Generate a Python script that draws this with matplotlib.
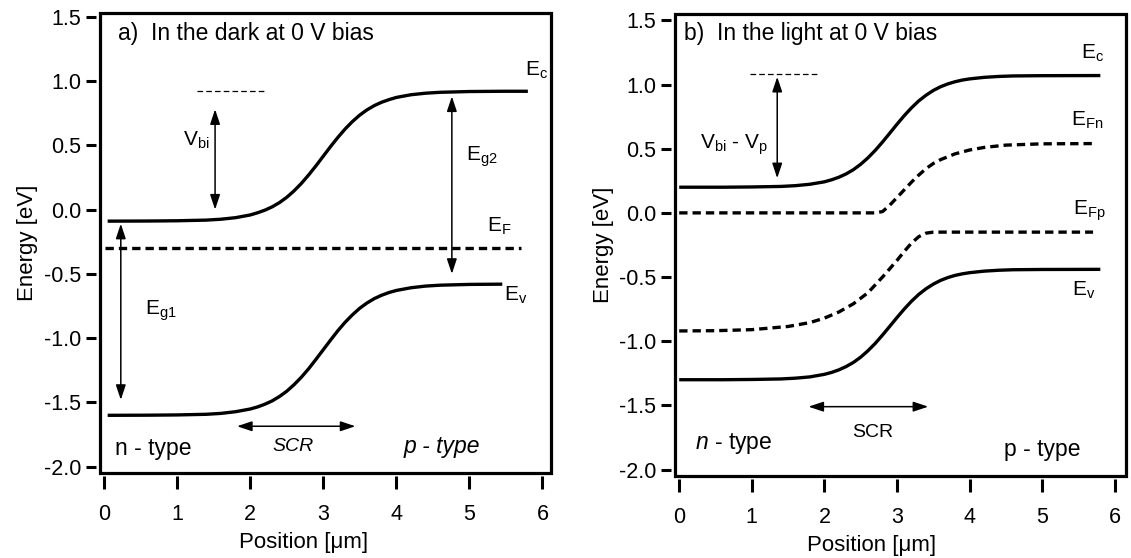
import matplotlib
matplotlib.use("Agg")
import matplotlib.pyplot as plt
from matplotlib.patches import Rectangle

plt.rcParams["font.family"] = ["Liberation Sans", "DejaVu Sans"]
plt.rcParams["mathtext.fontset"] = "custom"
plt.rcParams["mathtext.rm"] = "Liberation Sans"
plt.rcParams["mathtext.it"] = "Liberation Sans:italic"
plt.rcParams["mathtext.bf"] = "Liberation Sans:bold"

# ---- panel a) dark, 0 V bias ----
pos_a = [0.05, 0.6, 1.0, 1.4, 1.6, 1.8,
         2.0, 2.1, 2.2, 2.3, 2.4, 2.5, 2.6, 2.7, 2.8, 2.9, 3.0,
         3.1, 3.2, 3.3, 3.4, 3.5, 3.6, 3.7, 3.8, 3.9, 4.0,
         4.2, 4.4, 4.6, 5.0, 5.45, 5.8]
ec_a = [-0.090, -0.089, -0.087, -0.082, -0.075, -0.063,
        -0.042, -0.025, -0.005, 0.021, 0.054, 0.095, 0.145, 0.203, 0.269, 0.340, 0.415,
        0.490, 0.561, 0.627, 0.685, 0.735, 0.776, 0.809, 0.835, 0.855, 0.872,
        0.893, 0.905, 0.912, 0.918, 0.920, 0.920]
ev_a = [-1.600, -1.599, -1.597, -1.592, -1.585, -1.572,
        -1.551, -1.535, -1.514, -1.488, -1.454, -1.413, -1.362, -1.304, -1.238, -1.165,
        -1.090, -1.015, -0.942, -0.876, -0.818, -0.767, -0.726, -0.692, -0.666, -0.645,
        -0.629, -0.608, -0.595, -0.588, -0.582, -0.580]
ef_pos_a = [0.02, 5.7]
ef_a = [-0.30, -0.30]

# ---- panel b) light, 0 V bias ----
pos_b = [0.0, 0.6, 1.0, 1.4, 1.6, 1.8,
         2.0, 2.1, 2.2, 2.3, 2.4, 2.5, 2.6, 2.7, 2.8, 2.9, 3.0,
         3.1, 3.2, 3.3, 3.4, 3.5, 3.6, 3.7, 3.8, 3.9, 4.0,
         4.2, 4.4, 4.6, 5.0, 5.8]
ec_b = [0.200, 0.200, 0.202, 0.206, 0.212, 0.223,
        0.242, 0.258, 0.278, 0.304, 0.337, 0.379, 0.429, 0.487, 0.552, 0.621, 0.691,
        0.758, 0.819, 0.873, 0.917, 0.954, 0.983, 1.005, 1.022, 1.035, 1.044,
        1.056, 1.063, 1.067, 1.069, 1.070]
ev_b = [-1.300, -1.300, -1.298, -1.294, -1.288, -1.278,
        -1.258, -1.243, -1.223, -1.197, -1.165, -1.124, -1.074, -1.017, -0.952, -0.884,
        -0.815, -0.749, -0.688, -0.635, -0.591, -0.555, -0.526, -0.504, -0.487, -0.475,
        -0.466, -0.454, -0.447, -0.443, -0.441, -0.440]
efn_pos = [0.0, 2.7, 2.8, 2.9, 3.0, 3.1, 3.2, 3.3, 3.4, 3.5, 3.6, 3.8, 4.0, 4.2,
           4.5, 5.0, 5.7]
efn_b = [0.0, 0.0, 0.01, 0.06, 0.12, 0.18, 0.24, 0.295, 0.345, 0.385, 0.415, 0.46,
         0.49, 0.51, 0.528, 0.538, 0.54]
efp_pos = [0.0, 0.5, 1.0, 1.5, 1.8, 2.0, 2.2, 2.4, 2.6, 2.8, 3.0, 3.1, 3.2, 3.3,
           3.4, 3.5, 4.0, 5.7]
efp_b = [-0.92, -0.918, -0.91, -0.885, -0.855, -0.82, -0.772, -0.708, -0.622, -0.50,
         -0.37, -0.30, -0.235, -0.185, -0.158, -0.15, -0.15, -0.15]

xticks = [0, 1, 2, 3, 4, 5, 6]
yticks = [-2.0, -1.5, -1.0, -0.5, 0.0, 0.5, 1.0, 1.5]
ytick_labels = ["-2.0", "-1.5", "-1.0", "-0.5", "0.0", "0.5", "1.0", "1.5"]

BAND = dict(color="k", lw=2.4, solid_capstyle="butt", solid_joinstyle="round")
FERMI = dict(color="k", lw=2.4, dashes=(2.5, 1.5), dash_capstyle="butt")
REF = dict(color="k", lw=0.9, dashes=(4.5, 2.5))
ARROW = dict(arrowstyle="<|-|>,head_length=0.6,head_width=0.2", color="k", lw=1.1,
             mutation_scale=15, shrinkA=0, shrinkB=0)
LBL = 15


def style_axes(ax, xlim, ylim, xlab_x):
    ax.set_xlim(*xlim)
    ax.set_ylim(*ylim)
    ax.set_xticks(xticks)
    ax.set_yticks(yticks)
    ax.set_yticklabels(ytick_labels)
    for side in ("top", "right"):
        ax.spines[side].set_linewidth(2.0)
    # ticks sit a little away from the frame, as in the original
    ax.spines["bottom"].set_position(("outward", 2))
    ax.spines["left"].set_position(("outward", 3))
    ax.spines["bottom"].set_visible(False)
    ax.spines["left"].set_visible(False)
    ax.add_patch(Rectangle((0, 0), 1, 1, transform=ax.transAxes, fill=False,
                           lw=2.3, ec="k", clip_on=False, zorder=5))
    ax.tick_params(axis="x", direction="out", length=9, width=2.2, pad=11, labelsize=15.5)
    ax.tick_params(axis="y", direction="out", length=7.5, width=2.2, pad=3, labelsize=15.5)
    ax.set_xlabel("Position [\u03bcm]", fontsize=16)
    ax.set_ylabel("Energy [eV]", fontsize=16)
    ax.xaxis.set_label_coords(xlab_x, -0.128)


fig = plt.figure(figsize=(11.31, 5.58), dpi=100)
ax1 = fig.add_axes([0.0884, 0.152, 0.399, 0.825])
ax2 = fig.add_axes([0.597, 0.147, 0.399, 0.828])

# panel a
ax1.plot(pos_a, ec_a, **BAND)
ax1.plot(pos_a[:-1], ev_a, **BAND)
ax1.plot(ef_pos_a, ef_a, **FERMI)
ax1.plot([1.27, 2.23], [0.92, 0.92], **REF)
ax1.annotate("", xy=(1.52, 0.78), xytext=(1.52, 0.0), arrowprops=ARROW)
ax1.annotate("", xy=(0.23, -0.11), xytext=(0.23, -1.48), arrowprops=ARROW)
ax1.annotate("", xy=(4.76, 0.88), xytext=(4.76, -0.50), arrowprops=ARROW)
ax1.annotate("", xy=(1.82, -1.685), xytext=(3.44, -1.685), arrowprops=ARROW)
ax1.text(0.19, 1.37, "a)  In the dark at 0 V bias", fontsize=16.5, va="center")
ax1.text(1.44, 0.54, r"V$_\mathregular{bi}$", fontsize=LBL, va="center", ha="right")
ax1.text(0.56, -0.79, r"E$_\mathregular{g1}$", fontsize=LBL, va="center")
ax1.text(4.95, 0.41, r"E$_\mathregular{g2}$", fontsize=LBL, va="center")
ax1.text(5.76, 1.08, r"E$_\mathregular{c}$", fontsize=LBL, va="center")
ax1.text(5.24, -0.13, r"E$_\mathregular{F}$", fontsize=LBL, va="center")
ax1.text(5.47, -0.67, r"E$_\mathregular{v}$", fontsize=LBL, va="center")
ax1.text(2.59, -1.84, "SCR", fontsize=14, va="center", ha="center", style="italic")
ax1.text(0.15, -1.86, "n - type", fontsize=16.5, va="center")
ax1.text(4.1, -1.84, "p - type", fontsize=16.5, va="center", style="italic")
style_axes(ax1, (-0.055, 6.12), (-2.05, 1.53), 0.452)

# panel b
ax2.plot(pos_b, ec_b, **BAND)
ax2.plot(pos_b, ev_b, **BAND)
ax2.plot(efn_pos, efn_b, **FERMI)
ax2.plot(efp_pos, efp_b, **FERMI)
ax2.plot([0.98, 1.94], [1.08, 1.08], **REF)
ax2.annotate("", xy=(1.35, 1.06), xytext=(1.35, 0.27), arrowprops=ARROW)
ax2.annotate("", xy=(1.78, -1.51), xytext=(3.43, -1.51), arrowprops=ARROW)
ax2.text(0.06, 1.395, "b)  In the light at 0 V bias", fontsize=16.5, va="center")
ax2.text(1.22, 0.53, r"V$_\mathregular{bi}$ - V$_\mathregular{p}$", fontsize=LBL,
         va="center", ha="right")
ax2.text(5.53, 1.24, r"E$_\mathregular{c}$", fontsize=LBL, va="center")
ax2.text(5.39, 0.72, r"E$_\mathregular{Fn}$", fontsize=LBL, va="center")
ax2.text(5.43, 0.02, r"E$_\mathregular{Fp}$", fontsize=LBL, va="center")
ax2.text(5.41, -0.60, r"E$_\mathregular{v}$", fontsize=LBL, va="center")
ax2.text(2.67, -1.71, "SCR", fontsize=14, va="center", ha="center")
ax2.text(0.22, -1.80, r"$\mathit{n}$ - type", fontsize=16.5, va="center")
ax2.text(4.47, -1.84, "p - type", fontsize=16.5, va="center")
style_axes(ax2, (-0.055, 6.16), (-2.05, 1.55), 0.435)

fig.savefig("out.png", dpi=100)
